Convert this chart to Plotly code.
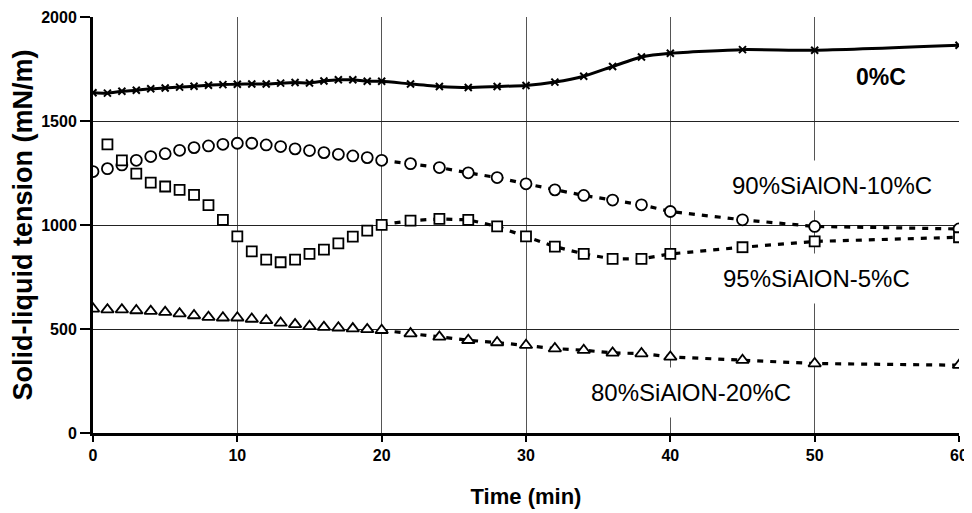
import plotly.graph_objects as go

# ---- data ----
time_full = [0, 1, 2, 3, 4, 5, 6, 7, 8, 9, 10, 11, 12, 13, 14, 15, 16, 17, 18, 19, 20,
             22, 24, 26, 28, 30, 32, 34, 36, 38, 40, 45, 50, 60]
time_c5 = time_full[1:]

c0 = [1636, 1634, 1643, 1648, 1655, 1659, 1663, 1667, 1672, 1675, 1677, 1678, 1678, 1682,
      1685, 1683, 1692, 1698, 1698, 1691, 1691,
      1678, 1666, 1661, 1666, 1671, 1687, 1715, 1762, 1808, 1826, 1843, 1840, 1864]
c10 = [1257, 1271, 1289, 1311, 1329, 1343, 1359, 1372, 1380, 1388, 1393, 1393, 1385, 1377,
       1366, 1358, 1348, 1340, 1332, 1324, 1311,
       1295, 1276, 1251, 1228, 1198, 1169, 1142, 1120, 1097, 1065, 1025, 993, 981]
c5 = [1388, 1311, 1247, 1204, 1185, 1169, 1145, 1096, 1025, 945, 873, 834, 821, 834,
      861, 882, 912, 944, 973, 1001,
      1021, 1029, 1025, 993, 945, 896, 861, 837, 837, 861, 893, 921, 941]
c20 = [597, 593, 593, 589, 586, 581, 574, 565, 557, 554, 554, 548, 541, 529,
       522, 513, 509, 506, 502, 498, 494,
       478, 462, 446, 435, 422, 406, 398, 385, 382, 366, 350, 334, 326]

labels = ["0%C", "90%SiAlON-10%C", "95%SiAlON-5%C", "80%SiAlON-20%C"]
label_pos = [(54.6, 1712), (51.2, 1188), (50.1, 743), (41.4, 196)]

x_ticks = [0, 10, 20, 30, 40, 50, 60]
y_ticks = [0, 500, 1000, 1500, 2000]

FONT = "Liberation Sans, Arial, sans-serif"

fig = go.Figure()

# 0%C : solid smooth line with x markers
fig.add_trace(go.Scatter(
    x=time_full, y=c0, mode="lines+markers",
    line=dict(color="black", width=3, shape="spline", smoothing=0.6),
    marker=dict(symbol="x-thin", size=7, line=dict(color="black", width=2)),
    showlegend=False, hoverinfo="skip"))

series = [(time_full, c10, "circle"), (time_c5, c5, "square"), (time_full, c20, "triangle-up")]
sizes = {"circle": 11, "square": 10, "triangle-up": 11}
for xs, ys, sym in series:
    xd = [x for x in xs if x >= 20]
    yd = [y for x, y in zip(xs, ys) if x >= 20]
    fig.add_trace(go.Scatter(
        x=xd, y=yd, mode="lines",
        line=dict(color="black", width=3.2, dash="6px,7px"),
        showlegend=False, hoverinfo="skip"))
for xs, ys, sym in series:
    fig.add_trace(go.Scatter(
        x=xs, y=ys, mode="markers",
        marker=dict(symbol=sym, size=sizes[sym], color="white",
                    line=dict(color="black", width=1.8)),
        showlegend=False, hoverinfo="skip"))

for i, (txt, (lx, ly)) in enumerate(zip(labels, label_pos)):
    fig.add_annotation(
        x=lx, y=ly, text=txt, showarrow=False,
        font=dict(family=FONT, size=24 if i else 23, color="black",
                  weight="bold" if i == 0 else "normal"),
        bgcolor="white" if i else "rgba(0,0,0,0)", borderpad=11)

# the page body adds an 8px offset, so the figure is 8px smaller than the window
fig.update_layout(
    width=964, height=505,
    margin=dict(l=85, r=13, t=9, b=80),
    plot_bgcolor="white", paper_bgcolor="white",
    font=dict(family=FONT, color="black"),
    xaxis=dict(
        range=[0, 60], tickvals=x_ticks, ticktext=[str(v) for v in x_ticks],
        showgrid=True, gridcolor="#555", gridwidth=1,
        showline=True, linecolor="black", linewidth=3,
        ticks="outside", ticklen=6, tickwidth=2, tickcolor="black",
        tickfont=dict(family=FONT, size=16, weight="bold"),
        zeroline=False, automargin=False,
        title=dict(text="Time (min)", font=dict(family=FONT, size=22, weight="bold"), standoff=26),
    ),
    yaxis=dict(
        range=[0, 2000], tickvals=y_ticks, ticktext=[str(v) for v in y_ticks],
        showgrid=True, gridcolor="#222", gridwidth=1,
        showline=True, linecolor="black", linewidth=3,
        ticks="outside", ticklen=10, tickwidth=2, tickcolor="black",
        tickfont=dict(family=FONT, size=16, weight="bold"),
        zeroline=False, automargin=False,
        title=dict(text="Solid-liquid tension (mN/m)", font=dict(family=FONT, size=27, weight="bold"), standoff=8),
    ),
    xaxis2=dict(
        overlaying="x", anchor="y", side="bottom", range=[0, 60], tickvals=x_ticks,
        showticklabels=False, showgrid=False, zeroline=False, showline=False,
        ticks="inside", ticklen=6, tickwidth=2, tickcolor="black", automargin=False,
    ),
    yaxis2=dict(
        overlaying="y", anchor="x", side="left", range=[0, 2000], tickvals=y_ticks,
        showticklabels=False, showgrid=False, zeroline=False, showline=False,
        ticks="inside", ticklen=6, tickwidth=2, tickcolor="black", automargin=False,
    ),
)

fig.write_html("out.html")
